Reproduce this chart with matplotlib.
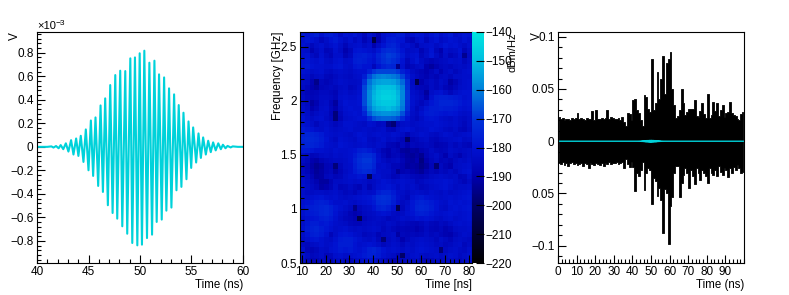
import numpy as np
import matplotlib
matplotlib.use('Agg')
import matplotlib.pyplot as plt
from matplotlib.colors import LinearSegmentedColormap
from matplotlib.ticker import MultipleLocator, FuncFormatter

plt.rcParams['font.family'] = ['Liberation Sans', 'DejaVu Sans']
plt.rcParams['font.size'] = 8

# pulse extrema, ns and 1e-3 V
pulse_t = [40, 41, 41.4, 41.6, 41.85, 42.1, 42.3, 42.55, 42.8, 43.05, 43.31, 43.54, 43.8, 44.02, 44.25, 44.51,
           44.74, 45.0, 45.23, 45.45, 45.68, 45.94, 46.17, 46.4, 46.62, 46.88, 47.11, 47.34, 47.6, 47.79,
           48.08, 48.28, 48.57, 48.76, 49.06, 49.25, 49.51, 49.74, 49.97, 50.19, 50.42, 50.68, 50.91, 51.17,
           51.4, 51.62, 51.85, 52.11, 52.34, 52.56, 52.82, 53.05, 53.31, 53.54, 53.76, 54.02, 54.22, 54.51,
           54.71, 54.97, 55.16, 55.45, 55.68, 55.91, 56.13, 56.39, 56.62, 56.87, 57.1, 57.35, 57.6, 57.85,
           58.05, 58.3, 58.5, 58.8, 59.0, 59.5, 60]
pulse_v = [0, 0, .004, -.006, .007, -.012, .015, -.02, .03, -.04, .057, -.065, .071, -.077, .094, -.128,
           .148, -.199, .224, -.247, .25, -.332, .352, -.383, .412, -.496, .525, -.562, .61, -.61,
           .647, -.675, .644, -.738, .752, -.817, .76, -.837, .795, -.831, .817, -.775, .715, -.746,
           .732, -.638, .616, -.618, .59, -.542, .497, -.516, .446, -.369, .355, -.34, .29, -.275,
           .216, -.179, .165, -.133, .114, -.094, .08, -.065, .052, -.045, .038, -.03, .03, -.02,
           .018, -.012, .008, -.005, .004, 0, 0]

# noise band of the right panel, V per ns bin
noise_up = [.023, .021, .022, .020, .021, .021, .020, .022, .021, .022,
            .027, .021, .022, .021, .020, .022, .021, .021, .029, .020,
            .030, .021, .021, .022, .021, .022, .030, .021, .023, .022,
            .021, .021, .022, .020, .023, .018, .015, .027, .026, .020,
            .039, .040, .030, .027, .020, .015, .044, .042, .031, .028,
            .079, .030, .037, .066, .040, .060, .082, .045, .075, .079,
            .085, .050, .035, .022, .024, .030, .050, .037, .025, .028,
            .031, .031, .031, .039, .024, .023, .029, .037, .026, .022,
            .045, .022, .025, .038, .029, .037, .024, .030, .035, .023,
            .027, .028, .038, .027, .025, .024, .021, .020, .026, .028]
noise_down = [.021, .022, .020, .023, .021, .024, .021, .020, .022, .021,
              .023, .022, .021, .024, .021, .022, .026, .021, .022, .023,
              .021, .022, .023, .021, .024, .021, .022, .020, .022, .021,
              .021, .020, .022, .021, .020, .026, .017, .022, .025, .020,
              .025, .048, .030, .033, .028, .020, .047, .030, .026, .028,
              .060, .035, .038, .052, .045, .056, .088, .046, .050, .098,
              .062, .053, .030, .024, .024, .053, .040, .032, .026, .030,
              .045, .028, .033, .041, .026, .030, .037, .028, .030, .033,
              .040, .026, .030, .032, .028, .033, .024, .029, .032, .026,
              .028, .034, .026, .030, .025, .028, .023, .026, .030, .029]

# spectrogram, -dBm/Hz, rows from the top (2.64 GHz) down
spec_db = [
    [178,180,178,176,181,178,177,179,184,180,181,179,182,186,181,184,189,182,180,179,177,178,183,181,179,180,183,180,178,182,180,178,183,181,179,180],
    [181,179,180,182,186,183,180,178,181,184,181,185,182,188,184,206,190,183,178,177,179,180,186,188,183,181,186,182,180,184,182,180,181,183,180,182],
    [180,182,186,183,181,184,182,180,183,187,183,182,181,184,182,190,184,180,176,175,178,182,181,184,188,183,182,181,184,182,179,181,180,182,184,181],
    [182,183,189,185,182,187,186,181,184,190,186,180,179,180,181,183,179,174,172,173,176,180,184,183,182,188,184,180,186,190,182,184,183,180,187,183],
    [181,180,184,186,181,185,187,182,182,188,185,178,177,176,178,180,175,171,169,170,173,178,183,181,180,186,183,179,184,188,183,187,185,181,194,184],
    [180,179,181,182,180,183,184,181,180,183,182,177,176,177,179,181,176,172,170,172,175,180,186,182,179,184,186,188,186,185,184,182,183,182,186,183],
    [179,178,180,181,181,182,182,180,179,182,183,179,178,180,180,186,180,176,174,175,195,181,188,186,184,183,190,192,189,186,185,186,184,183,184,182],
    [180,181,183,182,181,184,185,183,182,183,184,182,181,181,176,170,168,168,168,168,170,176,180,184,186,188,190,187,184,189,185,183,186,184,182,181],
    [182,183,186,184,183,186,187,185,183,184,185,183,182,177,167,162,160,159,160,161,163,168,177,182,185,187,189,186,188,185,184,186,183,183,182,182],
    [183,184,189,195,186,188,186,184,182,183,184,184,183,171,162,157,155,154,154,155,158,163,172,184,205,190,186,184,186,183,185,191,188,184,182,181],
    [184,186,190,192,187,186,185,186,184,183,186,185,182,168,160,154,150,149,149,150,154,160,171,183,186,187,188,184,186,184,187,189,186,183,182,181],
    [185,187,188,187,185,185,186,188,183,182,184,183,181,167,158,152,148,146,146,147,152,159,170,182,184,186,192,183,181,180,183,186,183,181,180,180],
    [184,186,187,186,184,184,185,187,182,181,182,182,180,167,158,151,147,145,145,146,151,159,170,181,183,185,190,181,177,176,176,177,178,179,181,180],
    [183,185,192,189,184,183,187,192,183,180,181,181,180,167,159,152,149,147,147,148,152,160,171,181,184,186,183,179,177,175,175,175,176,178,180,179],
    [182,184,190,187,183,182,186,190,184,181,180,181,181,170,161,155,152,151,150,152,155,161,172,182,186,183,179,177,177,176,177,177,178,180,181,180],
    [181,183,186,184,182,183,187,197,186,182,181,180,181,175,165,160,158,157,157,158,160,166,176,183,185,181,178,177,178,179,180,179,180,182,183,182],
    [180,182,184,182,181,184,186,197,187,183,182,181,180,180,173,167,165,164,164,165,167,173,180,184,186,183,180,179,180,182,183,184,182,184,185,183],
    [180,181,183,186,183,182,184,186,184,181,181,182,183,184,181,182,185,184,194,198,186,183,182,184,183,182,181,181,180,181,182,183,182,184,186,183],
    [178,179,180,182,183,181,183,184,183,182,181,183,183,182,183,184,183,182,186,187,183,181,180,182,184,183,182,180,181,182,184,185,183,186,187,184],
    [176,175,175,176,178,181,182,183,182,183,184,182,180,181,183,182,181,182,183,181,182,184,188,184,183,181,182,184,185,183,181,182,184,183,182,181],
    [175,174,174,175,177,180,183,185,181,182,183,184,181,180,184,185,183,181,184,183,185,187,200,188,186,184,183,186,187,185,184,183,182,181,184,183],
    [176,175,175,176,178,181,182,183,180,181,182,183,182,181,183,184,182,183,187,188,190,186,190,186,187,186,185,186,189,188,187,184,186,184,186,187],
    [178,178,179,181,181,182,183,181,182,182,181,180,177,176,178,181,184,188,190,186,188,192,193,191,192,189,187,184,186,187,186,183,184,185,184,183],
    [182,184,187,186,184,183,184,182,183,182,181,178,174,172,172,175,182,186,190,187,186,190,192,193,191,194,188,185,183,186,190,184,186,189,185,183],
    [184,186,190,191,188,186,185,184,184,183,181,176,172,170,170,174,181,184,186,185,184,188,191,192,190,196,190,186,184,187,186,188,185,183,184,182],
    [186,188,191,194,192,188,187,197,186,183,182,177,173,171,171,175,183,182,184,187,187,189,192,191,192,195,192,187,198,185,188,190,184,183,182,181],
    [185,187,190,193,191,188,186,191,187,184,182,178,175,173,174,177,182,183,183,186,193,189,188,190,191,193,189,186,188,185,186,184,186,183,181,180],
    [183,185,188,192,191,186,185,187,186,183,181,181,179,180,203,182,181,183,184,187,186,183,184,186,187,188,186,184,183,182,183,184,183,187,186,182],
    [182,184,186,189,192,192,188,184,184,183,182,183,182,183,185,184,182,180,181,183,182,181,182,183,186,185,183,182,181,181,180,181,183,185,187,184],
    [181,183,185,187,191,190,187,183,187,186,184,186,188,183,188,184,181,180,179,181,184,181,183,182,184,186,185,183,182,181,180,182,184,183,183,182],
    [183,185,184,183,183,184,183,182,184,186,185,187,184,182,183,182,177,175,175,178,182,183,185,183,182,183,184,182,183,184,182,184,183,182,181,180],
    [182,183,181,180,179,181,182,181,183,184,183,182,181,180,179,176,172,171,172,176,181,184,186,181,179,178,180,181,182,183,182,181,182,181,180,179],
    [181,180,179,177,176,177,180,182,182,181,183,184,182,181,180,178,173,172,173,177,182,185,183,179,176,175,176,178,180,182,183,180,181,180,181,180],
    [180,178,177,176,175,174,176,179,181,183,185,195,186,184,183,180,176,175,177,181,203,186,182,179,175,174,175,177,180,183,184,181,180,181,180,179],
    [181,179,178,177,175,174,176,180,183,185,188,190,188,185,184,183,181,180,181,184,185,184,181,180,177,176,177,179,181,182,181,180,181,182,181,180],
    [183,181,180,179,177,176,178,181,184,186,187,189,205,187,185,184,183,184,186,185,184,182,183,182,180,181,180,181,183,184,182,181,183,182,181,180],
    [182,179,177,177,179,178,180,182,183,184,186,187,187,185,184,183,184,185,183,184,186,185,186,187,188,186,184,186,187,185,186,184,182,181,182,181],
    [181,178,176,175,177,179,181,183,182,181,183,184,183,184,183,182,183,186,184,186,188,187,188,188,190,188,185,187,188,186,189,187,184,183,183,182],
    [183,180,177,176,178,181,187,183,180,179,180,182,183,186,185,184,188,185,184,183,191,186,187,186,187,186,184,186,185,187,189,190,186,184,182,183],
    [184,182,180,179,181,183,184,181,178,177,177,179,181,183,184,182,186,197,185,183,185,190,186,184,183,182,183,184,186,183,185,187,184,183,184,185],
    [185,186,184,183,181,183,182,180,177,177,177,180,182,181,180,181,183,186,184,182,183,186,183,184,182,181,182,183,185,184,186,185,183,182,186,184],
    [182,187,188,186,183,184,181,180,178,179,178,180,181,179,176,175,177,180,182,181,182,184,182,183,181,180,181,182,183,197,185,183,182,184,185,182],
    [181,184,186,185,183,187,186,182,181,183,182,181,180,178,176,176,178,181,183,184,187,200,184,182,181,183,184,183,182,184,183,181,182,185,183,181],
    [182,186,188,187,185,186,188,184,183,186,187,184,183,182,180,181,183,185,187,190,188,186,185,184,183,186,188,186,184,185,184,183,184,186,184,182],
]

cyan = '#00d2da'
W, H = 789, 295


def px_axes(fig, x0, x1, y0, y1):
    # pixel box, y counted from the top of the image
    return fig.add_axes([x0 / W, 1 - y1 / H, (x1 - x0) / W, (y1 - y0) / H])


def style_ticks(ax, xmaj, xmin, ymaj, ymin):
    ax.xaxis.set_major_locator(MultipleLocator(xmaj))
    ax.xaxis.set_minor_locator(MultipleLocator(xmin))
    ax.yaxis.set_major_locator(MultipleLocator(ymaj))
    ax.yaxis.set_minor_locator(MultipleLocator(ymin))
    ax.tick_params(which='major', direction='in', length=5.5, width=0.8, pad=2.5, labelsize=8.5)
    ax.tick_params(which='minor', direction='in', length=2.8, width=0.8)
    ax.xaxis.set_major_formatter(FuncFormatter(lambda v, p: ('%g' % v).replace('-', '\u2212')))
    ax.yaxis.set_major_formatter(FuncFormatter(lambda v, p: ('%g' % v).replace('-', '\u2212')))
    for s in ax.spines.values():
        s.set_linewidth(0.8)


fig = plt.figure(figsize=(W / 100, H / 100), dpi=100)

# left panel: the pulse
ax1 = px_axes(fig, 37, 243, 32, 263)
ax1.plot(pulse_t, pulse_v, color=cyan, lw=1.5, solid_joinstyle='round')
ax1.set_xlim(40, 60)
ax1.set_ylim(-0.987, 0.976)
style_ticks(ax1, 5, 1, 0.2, 0.04)
fig.text(37 / W, 1 - 31 / H, '\u00d710', fontsize=8, ha='left', va='bottom')
fig.text(56 / W, 1 - 27 / H, '\u22123', fontsize=6, ha='left', va='bottom')
fig.text(15 / W, 1 - 32 / H, 'V', fontsize=8.5, rotation=90, ha='center', va='top')
fig.text(243 / W, 1 - 291 / H, 'Time (ns)', fontsize=8.3, ha='right', va='bottom')

# middle panel: spectrogram with its colour bar
ax2 = px_axes(fig, 300, 472, 32, 263)
spec = -np.array(spec_db)
cmap = LinearSegmentedColormap.from_list('spec', [
    (0.0, (0, 0, 0)), (0.25, (0, 0, 0.4)), (0.375, (0, 0, 0.68)), (0.5, (0, 0.07, 0.82)),
    (0.625, (0, 0.2, 0.85)), (0.75, (0, 0.5, 0.86)), (0.875, (0, 0.74, 0.88)), (1.0, (0, 0.9, 0.88))])
x_edges = np.linspace(9.3, 81.4, spec.shape[1] + 1)
y_edges = np.linspace(2.636, 0.5, spec.shape[0] + 1)
mesh = ax2.pcolormesh(x_edges, y_edges, spec, cmap=cmap, vmin=-220, vmax=-140)
ax2.set_xlim(9.3, 81.4)
ax2.set_ylim(0.5, 2.636)
style_ticks(ax2, 10, 2, 0.5, 0.1)
fig.text(278 / W, 1 - 32 / H, 'Frequency [GHz]', fontsize=8.4, rotation=90, ha='center', va='top')
fig.text(472 / W, 1 - 291 / H, 'Time [ns]', fontsize=8.3, ha='right', va='bottom')

cax = px_axes(fig, 472, 484, 32, 263)
cb = fig.colorbar(mesh, cax=cax)
cb.outline.set_visible(False)
cb.set_ticks(list(range(-220, -139, 10)))
cb.ax.yaxis.set_major_formatter(FuncFormatter(lambda v, p: ('%g' % v).replace('-', '\u2212')))
cax.tick_params(axis='y', which='major', direction='in', length=6, width=0.8, pad=1, labelsize=8.5)
fig.text(513 / W, 1 - 32 / H, 'dBm/Hz', fontsize=8, rotation=90, ha='center', va='top')

# right panel: noisy trace with the pulse on top
ax3 = px_axes(fig, 558, 744, 32, 263)
bins = np.arange(len(noise_up)) + 0.5
ax3.fill_between(bins, -np.array(noise_down), noise_up, step='mid', color='black', lw=0.6)
ax3.plot([0] + pulse_t + [100], np.array([0] + pulse_v + [0]) * 1e-3, color=cyan, lw=1.0)
ax3.set_xlim(0, 100)
ax3.set_ylim(-0.1165, 0.1045)
style_ticks(ax3, 10, 2, 0.05, 0.01)
ax3.set_xticks(list(range(0, 100, 10)))
ax3.set_yticks([-0.1, -0.05, 0, 0.05, 0.1])
ax3.set_yticklabels(['\u22120.1', '0.05', '0', '0.05', '0.1'])
fig.text(537 / W, 1 - 32 / H, 'V', fontsize=8.5, rotation=90, ha='center', va='top')
fig.text(744 / W, 1 - 291 / H, 'Time (ns)', fontsize=8.3, ha='right', va='bottom')

fig.savefig('out.png', dpi=100)
